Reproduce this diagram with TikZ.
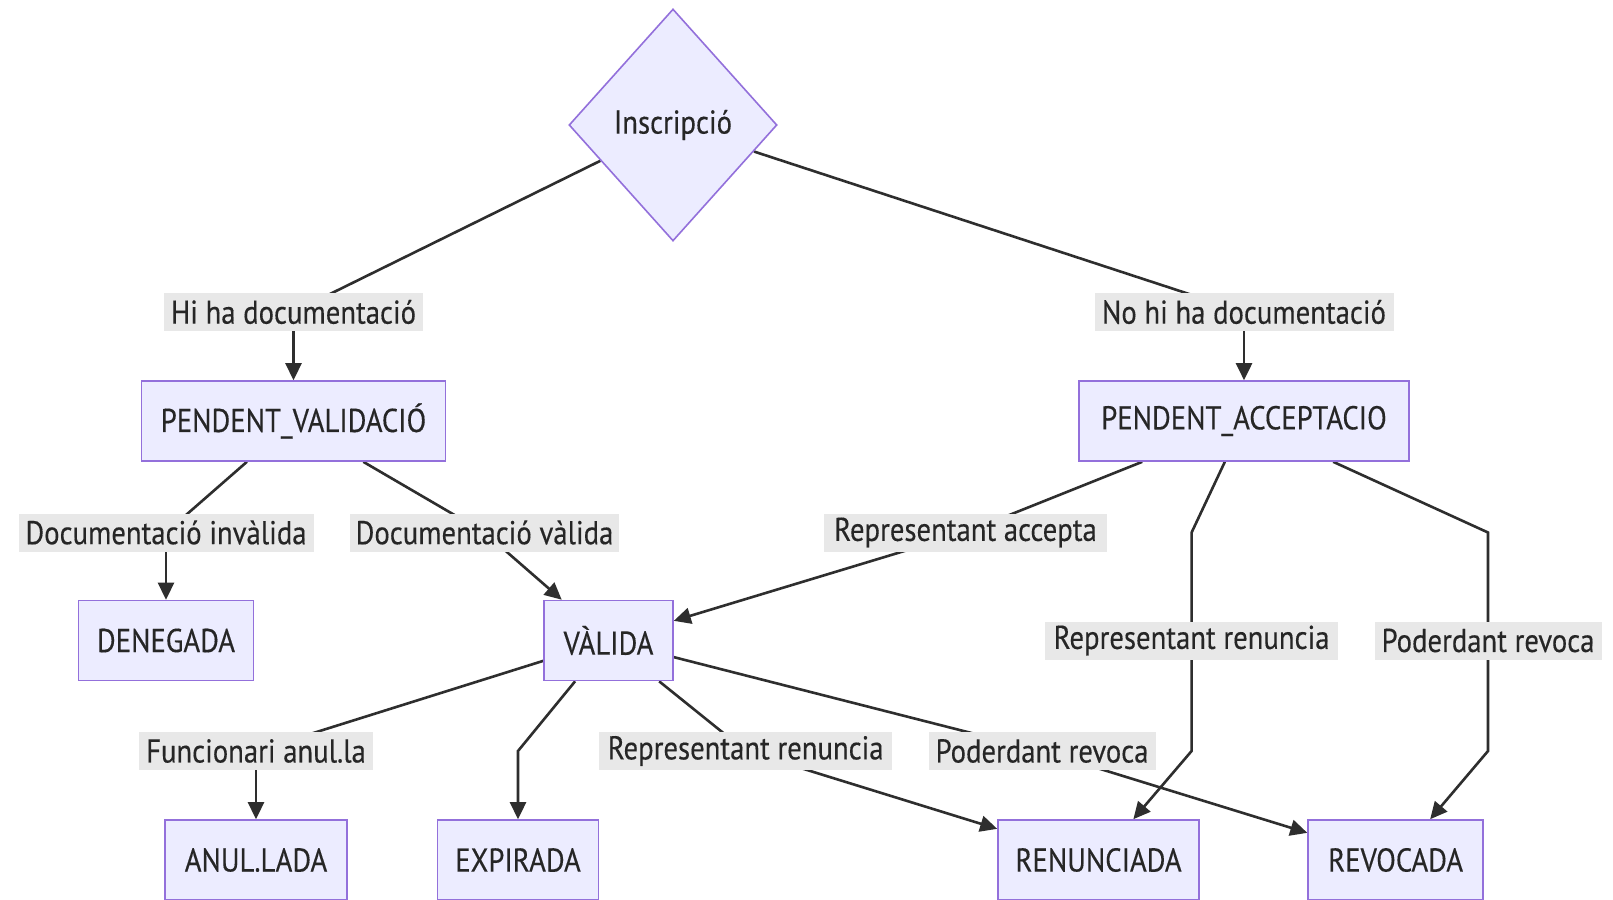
\documentclass[tikz,border=0pt]{standalone}
\usepackage{fontspec}
\setmainfont{PT Sans}[FakeStretch=0.87,FakeBold=0.3]
\usetikzlibrary{shapes.geometric,arrows.meta}
\definecolor{nodefill}{HTML}{ECECFF}
\definecolor{nodeline}{HTML}{9370DB}
\definecolor{lblfill}{HTML}{E8E8E8}
\definecolor{edgecol}{HTML}{2E2E2E}
\definecolor{txtcol}{HTML}{262626}
\pgfdeclarelayer{bglayer}
\pgfdeclarelayer{edgelayer}
\pgfsetlayers{bglayer,edgelayer,main}
\tikzset{
  statebox/.style={draw=nodeline, fill=nodefill, line width=1.6pt, minimum height=80pt, inner sep=0pt, text=txtcol},
  diam/.style={shape=diamond, draw=nodeline, fill=nodefill, line width=1.6pt, minimum width=208pt, minimum height=232pt, inner sep=0pt, text=txtcol},
  lbl/.style={fill=lblfill, minimum height=38pt, inner sep=0pt, text=txtcol},
  edge/.style={draw=edgecol, line width=2.6pt},
  arr/.style={edge, -{Triangle[length=17pt,width=16pt]}}
}
\begin{document}
\begin{tikzpicture}[x=1pt,y=-1pt,font=\fontsize{33}{38}\selectfont]
\useasboundingbox (0,0) rectangle (1613,899);
\begin{pgfonlayer}{bglayer}
\fill[white] (0,0) rectangle (1613,899);
\end{pgfonlayer}
% nodes
\node[diam] (insc) at (673,125) {Inscripció};
\node[lbl, minimum width=259pt] (lhi) at (293.5,312) {Hi ha documentació};
\node[lbl, minimum width=299pt] (lno) at (1244,312) {No hi ha documentació};
\node[statebox, minimum width=304pt] (pv) at (293.5,421) {PENDENT\_VALIDACIÓ};
\node[statebox, minimum width=330pt] (pa) at (1244,421) {PENDENT\_ACCEPTACIO};
\node[lbl, minimum width=295pt] (linv) at (166,532.5) {Documentació invàlida};
\node[lbl, minimum width=269pt] (lval) at (484.5,532.5) {Documentació vàlida};
\node[lbl, minimum width=283pt] (lacc) at (965.5,532.5) {Representant accepta};
\node[statebox, minimum width=175pt] (den) at (166,640.5) {DENEGADA};
\node[statebox, minimum width=129pt] (val) at (608.5,640.5) {VÀLIDA};
\node[lbl, minimum width=293pt] (lrenu) at (1191.6,640.5) {Representant renuncia};
\node[lbl, minimum width=227pt] (lrevu) at (1488,640.5) {Poderdant revoca};
\node[lbl, minimum width=234pt] (lfun) at (256,751) {Funcionari anul.la};
\node[lbl, minimum width=293pt] (lrenl) at (745.7,751) {Representant renuncia};
\node[lbl, minimum width=227pt] (lrevl) at (1042,751) {Poderdant revoca};
\node[statebox, minimum width=182pt] (anu) at (256,860) {ANUL.LADA};
\node[statebox, minimum width=161pt] (expi) at (518,860) {EXPIRADA};
\node[statebox, minimum width=201pt] (ren) at (1098.5,860) {RENUNCIADA};
\node[statebox, minimum width=175pt] (rev) at (1395.6,860) {REVOCADA};
% bend points
\coordinate (bexp) at (518,751);
\coordinate (bren1) at (1191.6,532.5);
\coordinate (bren2) at (1191.6,751);
\coordinate (brev1) at (1488,532.5);
\coordinate (brev2) at (1488,751);
% edges
\begin{pgfonlayer}{edgelayer}
\draw[edge] (insc) -- (lhi.center);
\draw[arr] (lhi.center) -- (pv);
\draw[edge] (insc) -- (lno.center);
\draw[arr] (lno.center) -- (pa);
\draw[edge] (pv) -- (linv.center);
\draw[arr] (linv.center) -- (den);
\draw[edge] (pv) -- (lval.center);
\draw[arr] (lval.center) -- (val);
\draw[edge] (pa) -- (lacc.center);
\draw[arr] (lacc.center) -- (val);
\draw[edge] (pa) -- (bren1) -- (lrenu.center);
\draw[arr] (lrenu.center) -- (bren2) -- (ren);
\draw[edge] (pa) -- (brev1) -- (lrevu.center);
\draw[arr] (lrevu.center) -- (brev2) -- (rev);
\draw[edge] (val) -- (lfun.center);
\draw[arr] (lfun.center) -- (anu);
\draw[arr] (val) -- (bexp) -- (expi);
\draw[edge] (val) -- (lrenl.center);
\draw[arr] (lrenl.center) -- (ren);
\draw[edge] (val) -- (lrevl.center);
\draw[arr] (lrevl.center) -- (rev);
\end{pgfonlayer}
\end{tikzpicture}
\end{document}
